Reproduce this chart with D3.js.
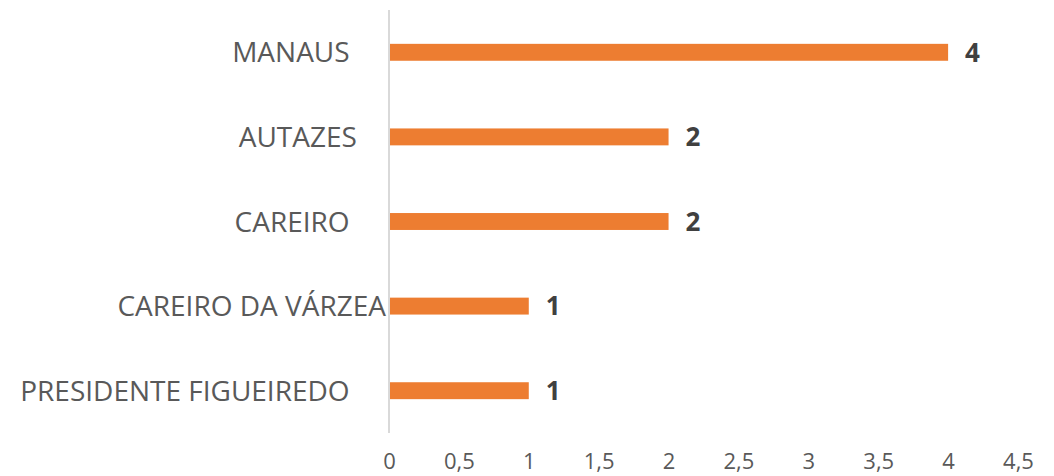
<!DOCTYPE html>
<html>
<head>
<meta charset="utf-8">
<script src="https://cdn.jsdelivr.net/npm/d3@7"></script>
<style>
  body { margin: 0; background: #fff; }
  text { font-family: "Open Sans", sans-serif; }
</style>
</head>
<body>
<div id="chart"></div>
<script>
// trailing spaces are kept, the source labels carry them
const categories = ["MANAUS     ", "AUTAZES    ", "CAREIRO     ", "CAREIRO DA VÁRZEA", "PRESIDENTE FIGUEIREDO     "];
const values = [4, 2, 2, 1, 1];
const ticks = [0, 0.5, 1, 1.5, 2, 2.5, 3, 3.5, 4, 4.5];

const width = 1054, height = 476;
const margin = { top: 10, right: 36, bottom: 43, left: 389 };

const svg = d3.select("#chart").append("svg")
    .attr("width", width)
    .attr("height", height);

const x = d3.scaleLinear()
    .domain([0, 4.5])
    .range([margin.left, width - margin.right]);

const y = d3.scaleBand()
    .domain(categories)
    .range([margin.top, height - margin.bottom])
    .paddingInner(0.8)
    .paddingOuter(0.4);

const fmt = d3.formatLocale({ decimal: ",", thousands: ".", grouping: [3], currency: ["R$", ""] }).format("~g");

// tick labels on the bottom, no axis line
svg.append("g")
    .attr("transform", `translate(0,${height - margin.bottom})`)
    .call(d3.axisBottom(x).tickValues(ticks).tickFormat(fmt).tickSize(0).tickPadding(20))
    .call(g => g.select(".domain").remove())
    .call(g => g.selectAll("text")
        .attr("fill", "#595959")
        .style("font-size", "22px")
        .style("font-family", "'Open Sans', sans-serif"));

// category labels
svg.selectAll(".cat")
    .data(categories)
    .enter().append("text")
    .attr("class", "cat")
    .attr("x", margin.left - 3)
    .attr("y", d => y(d) + y.bandwidth() / 2)
    .attr("dy", "0.36em")
    .attr("text-anchor", "end")
    .attr("fill", "#595959")
    .style("font-size", "28px")
    .style("white-space", "pre")
    .text(d => d);

svg.selectAll(".bar")
    .data(values)
    .enter().append("rect")
    .attr("class", "bar")
    .attr("x", x(0))
    .attr("y", (d, i) => y(categories[i]))
    .attr("width", d => x(d) - x(0))
    .attr("height", y.bandwidth())
    .attr("fill", "#ED7D31");

// vertical axis line
svg.append("line")
    .attr("x1", x(0)).attr("x2", x(0))
    .attr("y1", margin.top).attr("y2", height - margin.bottom)
    .attr("stroke", "#d9d9d9")
    .attr("stroke-width", 2);

svg.selectAll(".val")
    .data(values)
    .enter().append("text")
    .attr("class", "val")
    .attr("x", d => x(d) + 17)
    .attr("y", (d, i) => y(categories[i]) + y.bandwidth() / 2)
    .attr("dy", "0.36em")
    .attr("fill", "#404040")
    .style("font-size", "26px")
    .style("font-weight", "bold")
    .text(d => d);
</script>
</body>
</html>
